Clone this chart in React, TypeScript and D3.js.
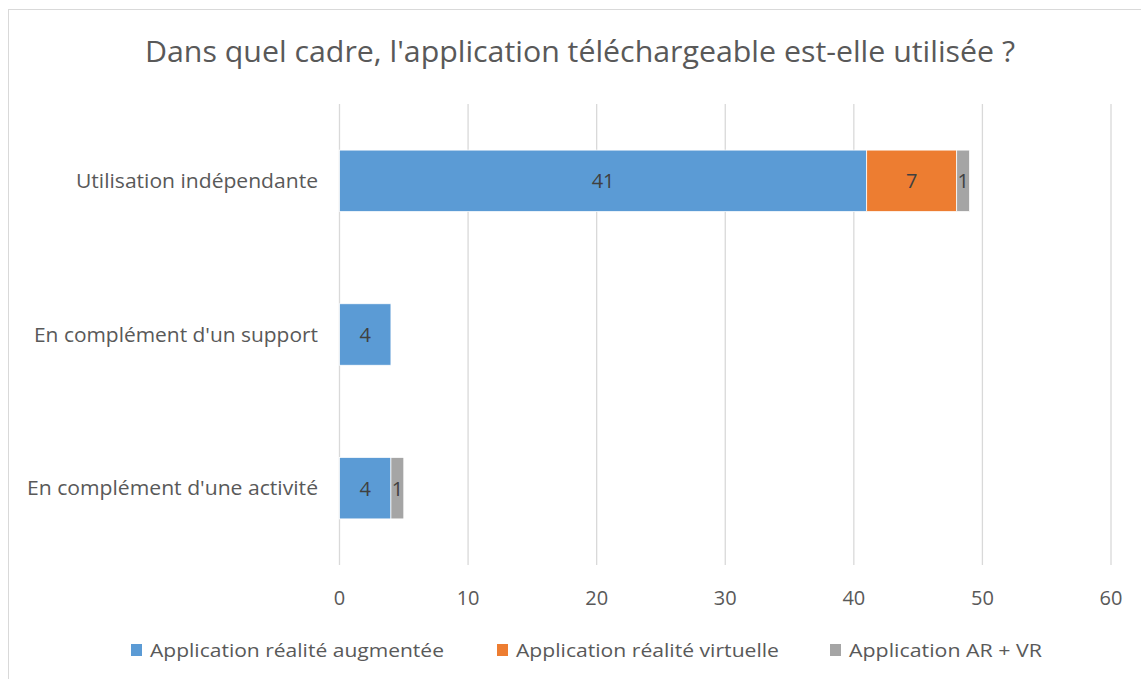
import React from 'react';
import * as d3 from 'd3';

const categories = ['Utilisation indépendante', "En complément d'un support", "En complément d'une activité"];
const seriesNames = ['Application réalité augmentée', 'Application réalité virtuelle', 'Application AR + VR'];
const seriesColors = ['#5B9BD5', '#ED7D31', '#A5A5A5'];
const augmentee = [41, 4, 4];
const virtuelle = [7, 0, 0];
const arvr = [1, 0, 1];
const xTicks = [0, 10, 20, 30, 40, 50, 60];

// measured widths of the reference texts (Calibri), to keep the layout
const catWidths = [242, 284, 291];
const legendWidths = [294, 263, 193];

const W = 1141;
const H = 679;
const font = "'Open Sans', 'Noto Sans', sans-serif";

export default function App() {
  const x = d3.scaleLinear().domain([0, 60]).range([339.5, 1111]);
  const y = d3.scaleBand<string>().domain(categories).range([104, 565]).paddingInner(0.6).paddingOuter(0.3);

  const series = [augmentee, virtuelle, arvr];
  const rows = categories.map((c, i) => {
    let acc = 0;
    return series.map((s, k) => {
      const x0 = acc;
      acc += s[i];
      return { cat: c, k, x0, x1: acc, v: s[i] };
    });
  });

  const legendX = [131, 497, 830];

  return (
    <svg width={W} height={H} style={{ position: 'absolute', left: 0, top: 0 }} fontFamily={font}>
      <rect x={0} y={0} width={W} height={H} fill="#fff" />
      <rect x={8.5} y={9.5} width={W + 20} height={H + 20} fill="#fff" stroke="#D9D9D9" />
      <text x={580} y={62} textAnchor="middle" fontSize={30} fill="#595959" textLength={870} lengthAdjust="spacingAndGlyphs">
        Dans quel cadre, l'application téléchargeable est-elle utilisée ?
      </text>

      {xTicks.map(t => (
        <g key={t}>
          <line x1={x(t)} x2={x(t)} y1={104} y2={565} stroke="#D9D9D9" strokeWidth={1.3} />
          <text x={x(t)} y={605} textAnchor="middle" fontSize={20} fill="#595959">{t}</text>
        </g>
      ))}

      {categories.map((c, i) => (
        <text key={c} x={318} y={(y(c) as number) + y.bandwidth() / 2 + 7} textAnchor="end" fontSize={20} fill="#595959"
          textLength={catWidths[i]} lengthAdjust="spacingAndGlyphs">{c}</text>
      ))}

      {rows.map(r => r.filter(d => d.v > 0).map(d => (
        <g key={d.cat + d.k}>
          <rect x={x(d.x0)} y={y(d.cat)} width={x(d.x1) - x(d.x0)} height={y.bandwidth()} fill={seriesColors[d.k]}
            stroke="#fff" strokeWidth={0.75} />
          <text x={(x(d.x0) + x(d.x1)) / 2} y={(y(d.cat) as number) + y.bandwidth() / 2 + 7.5} textAnchor="middle"
            fontSize={20} fill="#404040">{d.v}</text>
        </g>
      )))}

      {seriesNames.map((n, k) => (
        <g key={n}>
          <rect x={legendX[k]} y={644} width={11} height={12} fill={seriesColors[k]} />
          <text x={legendX[k] + 19} y={657} fontSize={19} fill="#595959" textLength={legendWidths[k]}
            lengthAdjust="spacingAndGlyphs">{n}</text>
        </g>
      ))}
    </svg>
  );
}
